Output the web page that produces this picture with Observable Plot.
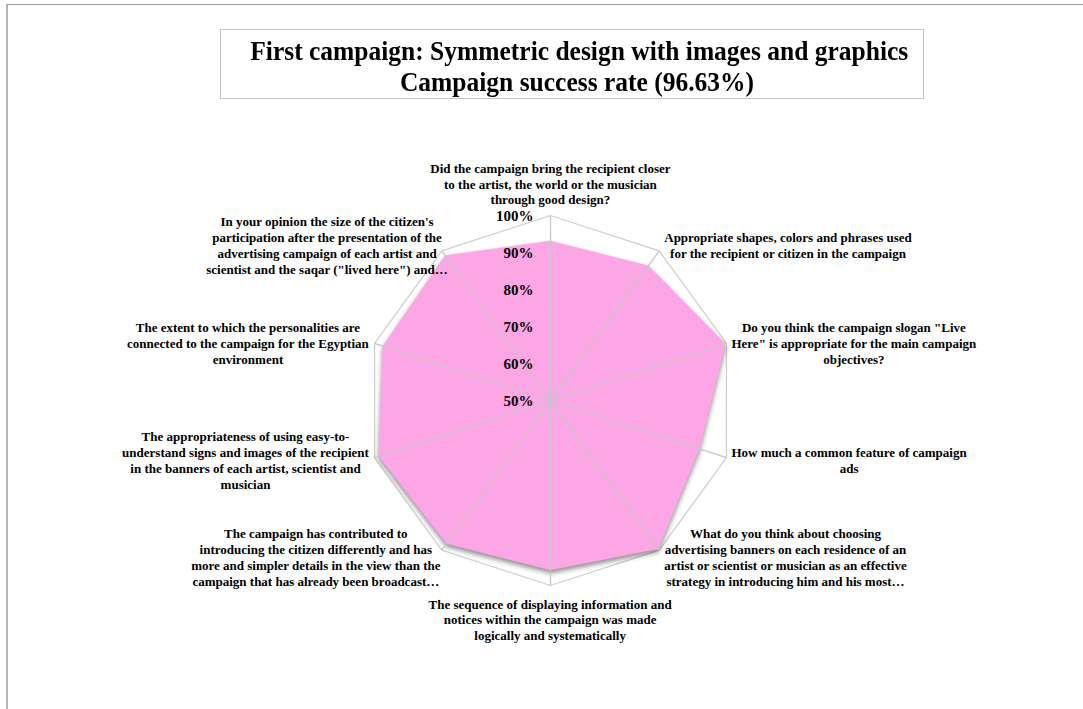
<!DOCTYPE html>
<html>
<head>
<meta charset="utf-8">
<script src="https://cdn.jsdelivr.net/npm/d3@7"></script>
<script src="https://cdn.jsdelivr.net/npm/@observablehq/plot@0.6"></script>
<style>
  html, body { margin: 0; padding: 0; background: #fff; width: 1083px; height: 709px; overflow: hidden; }
  #frame { position: absolute; left: 6px; top: 4px; width: 1200px; height: 800px;
           border-top: 1px solid #9a9a9a; border-left: 2px solid #b4b4b4; box-sizing: border-box; }
  #chart { position: absolute; left: 0; top: 0; }
  #title { position: absolute; left: 220px; top: 29px; width: 704px; height: 70px; box-sizing: border-box;
           border: 1px solid #c4c4c4; background: #fff; overflow: visible;
           font-family: 'Liberation Serif', 'Times New Roman', serif; font-weight: bold; font-size: 27px;
           line-height: 30.5px; text-align: center; color: #000; }
  #titleInner { position: absolute; left: 10px; right: 0; top: 6px; transform-origin: 50% 0; white-space: nowrap; }
</style>
</head>
<body>
<div id="frame"></div>
<div id="chart"></div>
<div id="title"><div id="titleInner"><span id="t1"></span><br><span id="t2"></span></div></div>
<script>
const titleLines = ["First campaign: Symmetric design with images and graphics", "Campaign success rate (96.63%)"];

const categories = [
  "Did the campaign bring the recipient closer\nto the artist, the world or the musician\nthrough good design?",
  "Appropriate shapes, colors and phrases used\nfor the recipient or citizen in the campaign",
  "Do you think the campaign slogan \"Live\nHere\" is appropriate for the main campaign\nobjectives?",
  "How much a common feature of campaign\nads",
  "What do you think about choosing\nadvertising banners on each residence of an\nartist or scientist or musician as an effective\nstrategy in introducing him and his most\u2026",
  "The sequence of displaying information and\nnotices within the campaign was made\nlogically and systematically",
  "The campaign has contributed to\nintroducing the citizen differently and has\nmore and simpler details in the view than the\ncampaign that has already been broadcast\u2026",
  "The appropriateness of using easy-to-\nunderstand signs and images of the recipient\nin the banners of each artist, scientist and\nmusician",
  "The extent to which the personalities are\nconnected to the campaign for the Egyptian\nenvironment",
  "In your opinion the size of the citizen's\nparticipation after the presentation of the\nadvertising campaign of each artist and\nscientist and the saqar (\"lived here\") and\u2026"
];

const values = [93.1, 95.0, 99.7, 92.3, 99.5, 95.8, 97.8, 98.8, 97.6, 98.4];

const ticks = [50, 60, 70, 80, 90, 100];
const tickLabels = ["50%", "60%", "70%", "80%", "90%", "100%"];
const axisMin = 50, axisMax = 100;

const n = categories.length;
const rows = categories.map((c, i) => ({cat: c, value: values[i], angle: i * 2 * Math.PI / n, i}));
const closed = [...rows, rows[0]];
const R = axisMax - axisMin;
const px = (r, a) => r * Math.sin(a);
const py = (r, a) => r * Math.cos(a);

const fontFamily = "'Liberation Serif', 'Times New Roman', serif";

const plot = Plot.plot({
  width: 1083,
  height: 709,
  margin: 0,
  style: {fontFamily, background: "transparent", color: "#000", overflow: "visible"},
  x: {domain: [-R, R], range: [365, 735], axis: null},
  y: {domain: [-R, R], range: [585, 215], axis: null},
  marks: [
    Plot.line(closed, {x: d => px(R, d.angle), y: d => py(R, d.angle), stroke: "#cfcfcf", strokeWidth: 1.3}),
    Plot.line(closed, {x: d => px(d.value - axisMin, d.angle), y: d => py(d.value - axisMin, d.angle),
      fill: "#FCA6E6", stroke: "#FCA6E6", strokeWidth: 0.5}),
    Plot.link(rows, {x1: () => 0, y1: () => 0, x2: d => px(R, d.angle), y2: d => py(R, d.angle),
      stroke: "#c6c6c6", strokeWidth: 1.3}),
    Plot.text(ticks, {x: () => 0, y: t => t - axisMin, text: (t, i) => tickLabels[i],
      textAnchor: "end", dx: -17, dy: 1, fontSize: 15, fontWeight: "bold", fill: "#000"}),
    Plot.text(rows, {x: d => px(R, d.angle), y: d => py(R, d.angle), text: "cat",
      textAnchor: "middle", lineAnchor: "middle", fontSize: 13, fontWeight: "bold", lineHeight: 1.23,
      fill: "#000"})
  ]
});
document.getElementById("chart").appendChild(plot);

// shadow under the filled area (second line mark)
const lineGroups = plot.querySelectorAll('g[aria-label="line"]');
if (lineGroups[1]) lineGroups[1].querySelectorAll("path").forEach(p => {
  p.style.filter = "drop-shadow(0px 3px 2.5px rgba(0,0,0,0.45))";
});

// place category label blocks around the outer ring (lines centred within each block)
const textGroups = plot.querySelectorAll('g[aria-label="text"]');
if (textGroups[1]) textGroups[1].querySelectorAll(":scope > text").forEach((t, k) => {
  const a = rows[k].angle;
  const s = Math.sin(a), c = Math.cos(a);
  const b = t.getBBox();
  let dx = 0, dy = 0;
  const cx = b.x + b.width / 2, cy = b.y + b.height / 2;
  if (Math.abs(s) < 0.1) {
    dx = -cx;
    if (c > 0) dy = (-8) - (b.y + b.height);
    else dy = 11 - b.y;
  } else {
    let gap = 5;
    if (s < 0 && c > 0.5) gap = -6;
    else if (s < 0 && c < -0.5) gap = 1;
    if (s > 0) dx = gap - b.x; else dx = -gap - (b.x + b.width);
    if (c < -0.5) dy = 7 - cy;
    else if (c > 0.5) dy = -5.5 - cy;
    else dy = (c < 0 ? 3 : 0) - cy;
  }
  const tr = t.getAttribute("transform") || "";
  t.setAttribute("transform", tr + ` translate(${dx},${dy})`);
});

document.getElementById("t1").textContent = titleLines[0];
document.getElementById("t2").textContent = titleLines[1];
const w1 = document.getElementById("t1").getBoundingClientRect().width;
document.getElementById("titleInner").style.transform = `scaleX(${658 / w1})`;
</script>
</body>
</html>
